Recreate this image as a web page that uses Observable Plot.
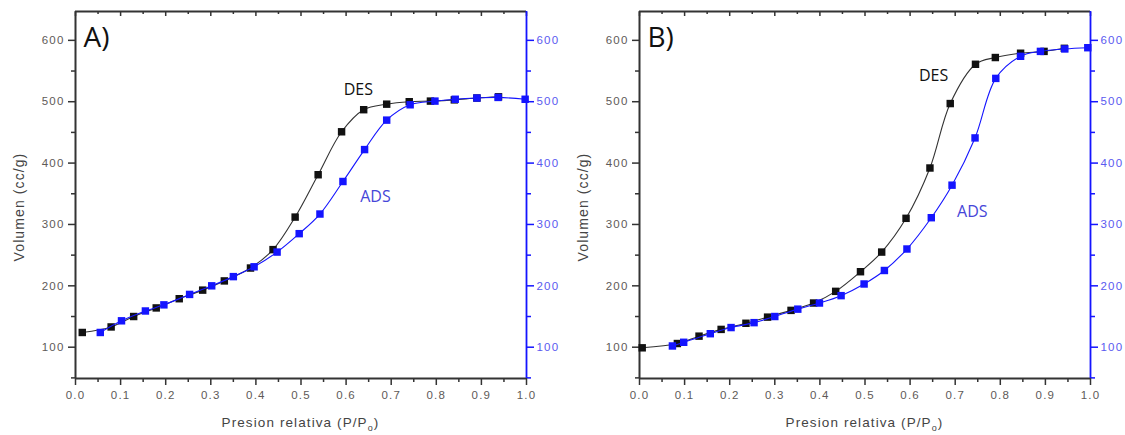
<!DOCTYPE html>
<html><head><meta charset="utf-8">
<script src="https://cdn.jsdelivr.net/npm/d3@7"></script>
<script src="https://cdn.jsdelivr.net/npm/@observablehq/plot@0.6"></script>
<style>
html,body{margin:0;padding:0;background:#fff;}
#wrap{position:relative;width:1125px;height:435px;overflow:hidden;background:#fff;}
.panel{position:absolute;top:0;}
.panel g[aria-label$="tick label"] text{letter-spacing:1.2px;}
</style></head><body><div id="wrap"></div>
<script>
// ---- data ----
const panelLabels = ["A)", "B)"];
const xTitle = "Presion relativa (P/P";
const xTitleSub = "o";
const yTitle = "Volumen (cc/g)";
const seriesNames = ["DES", "ADS"];

// Panel A
const desAx = [0.015, 0.079, 0.129, 0.179, 0.230, 0.282, 0.330, 0.388, 0.438, 0.487, 0.538, 0.590, 0.639, 0.690, 0.740, 0.787, 0.840, 0.890, 0.938];
const desAy = [124, 133, 150, 164, 179, 193, 208, 229, 259, 312, 381, 451, 487, 496, 500, 501, 503, 506, 508];
const adsAx = [0.055, 0.102, 0.155, 0.196, 0.253, 0.302, 0.350, 0.396, 0.447, 0.496, 0.542, 0.593, 0.641, 0.690, 0.742, 0.797, 0.842, 0.890, 0.937, 0.997];
const adsAy = [124, 143, 159, 169, 186, 200, 215, 231, 255, 285, 317, 370, 422, 470, 495, 501, 504, 506, 507, 504];

// Panel B
const desBx = [0.006, 0.084, 0.132, 0.181, 0.236, 0.284, 0.336, 0.386, 0.435, 0.490, 0.537, 0.591, 0.644, 0.689, 0.745, 0.789, 0.845, 0.897, 0.942];
const desBy = [99, 106, 118, 129, 139, 149, 160, 172, 191, 223, 255, 310, 392, 497, 561, 572, 579, 582, 587];
const adsBx = [0.073, 0.098, 0.157, 0.203, 0.254, 0.300, 0.351, 0.399, 0.447, 0.498, 0.543, 0.593, 0.647, 0.693, 0.744, 0.790, 0.845, 0.889, 0.943, 0.994];
const adsBy = [102, 108, 122, 132, 140, 150, 162, 172, 184, 203, 225, 260, 311, 364, 441, 538, 574, 582, 586, 588];

// annotation positions (data units)
const annoAx = [0.627, 0.665];
const annoAy = [519, 345];
const annoBx = [0.652, 0.738];
const annoBy = [542, 320];

// axes
const xDomain = [0, 1];
const yDomain = [49, 647];
const xMajor = [0, 0.1, 0.2, 0.3, 0.4, 0.5, 0.6, 0.7, 0.8, 0.9, 1.0];
const xMinor = [0.05, 0.15, 0.25, 0.35, 0.45, 0.55, 0.65, 0.75, 0.85, 0.95];
const yMajor = [100, 200, 300, 400, 500, 600];
const yMinor = [50, 150, 250, 350, 450, 550];

// ---- styles ----
const BLACK = "#111111";
const BLUE = "#1414ff";
const AXIS = "#333333";
const TICKTXT = "#5e5a58";
const RTXT = "#5a5af0";
const ADSTXT = "#4646d8";

function pts(xs, ys) { return xs.map((x, i) => ({x, y: ys[i]})); }

function makePanel(label, dx, dy, ax, ay, annoX, annoY, left, width) {
  const des = pts(dx, dy), ads = pts(ax, ay);
  const anno = annoX.map((x, i) => ({x, y: annoY[i], t: seriesNames[i]}));
  const mL = 75, mR = width - 526;
  const plot = Plot.plot({
    width, height: 435,
    marginLeft: mL, marginRight: mR, marginTop: 11, marginBottom: 57,
    style: {fontFamily: "'Liberation Sans', Arial, sans-serif", fontSize: "11.5px", background: "transparent", overflow: "visible"},
    x: {domain: xDomain, axis: null},
    y: {domain: yDomain, axis: null},
    marks: [
      Plot.axisY({anchor: "left", ticks: yMinor, tickSize: 4, tickFormat: () => "", stroke: AXIS, strokeWidth: 1.5, label: null}),
      Plot.axisY({anchor: "left", ticks: yMajor, tickSize: 7, tickPadding: 4, stroke: AXIS, fill: TICKTXT, strokeWidth: 1.5, label: null}),
      Plot.axisY({anchor: "right", ticks: yMinor, tickSize: 4, tickFormat: () => "", stroke: BLUE, strokeWidth: 1.5, label: null}),
      Plot.axisY({anchor: "right", ticks: yMajor, tickSize: 7, tickPadding: 3, stroke: BLUE, fill: RTXT, strokeWidth: 1.5, label: null}),
      Plot.axisX({anchor: "bottom", ticks: xMinor, tickSize: 4, tickFormat: () => "", stroke: AXIS, strokeWidth: 1.5, label: null}),
      Plot.axisX({anchor: "bottom", ticks: xMajor, tickSize: 7, tickPadding: 5, tickFormat: d3.format(".1f"), stroke: AXIS, fill: TICKTXT, strokeWidth: 1.5, label: null}),
      Plot.axisX({anchor: "top", ticks: xMinor, tickSize: -2, tickFormat: () => "", stroke: AXIS, strokeWidth: 1.5, label: null}),
      Plot.axisX({anchor: "top", ticks: xMajor, tickSize: -4, tickFormat: () => "", stroke: AXIS, strokeWidth: 1.5, label: null}),
      Plot.ruleY([yDomain[0]], {stroke: AXIS, strokeWidth: 2}),
      Plot.ruleY([yDomain[1]], {stroke: AXIS, strokeWidth: 2}),
      Plot.ruleX([xDomain[0]], {stroke: AXIS, strokeWidth: 2}),
      Plot.ruleX([xDomain[1]], {stroke: BLUE, strokeWidth: 1.8}),
      Plot.line(des, {x: "x", y: "y", stroke: "#333", strokeWidth: 1.1, curve: "catmull-rom"}),
      Plot.dot(des, {x: "x", y: "y", symbol: "square", r: 4.2, fill: BLACK, stroke: null}),
      Plot.line(ads, {x: "x", y: "y", stroke: BLUE, strokeWidth: 1.1, curve: "catmull-rom"}),
      Plot.dot(ads, {x: "x", y: "y", symbol: "square", r: 4.2, fill: BLUE, stroke: null}),
      Plot.text(anno, {x: "x", y: "y", text: "t", fill: (d, i) => i === 0 ? BLACK : ADSTXT, fontSize: 16, fontFamily: "'Open Sans', sans-serif", lineAnchor: "middle", textAnchor: "middle"}),
      Plot.text([label], {frameAnchor: "top-left", dx: 8, dy: 16, fontSize: 28, fontFamily: "'Open Sans', sans-serif", fill: "#111", lineAnchor: "top", textAnchor: "start"})
    ]
  });
  const div = document.createElement("div");
  div.className = "panel";
  div.style.left = left + "px";
  div.appendChild(plot);
  document.getElementById("wrap").appendChild(div);

  const svg = d3.select(plot);
  const xt = svg.append("text")
    .attr("x", (mL + 526) / 2).attr("y", 426.5)
    .attr("text-anchor", "middle")
    .attr("font-family", "'Liberation Sans', Arial, sans-serif")
    .attr("font-size", 13.5).attr("fill", "#444")
    .style("letter-spacing", "1.1px");
  xt.append("tspan").text(xTitle);
  xt.append("tspan").attr("dy", 4).attr("font-size", 9).text(xTitleSub);
  xt.append("tspan").attr("dy", -4).text(")");

  svg.append("text")
    .attr("transform", "translate(24,207) rotate(-90)")
    .attr("text-anchor", "middle")
    .attr("font-family", "'Liberation Sans', Arial, sans-serif")
    .attr("font-size", 14).attr("fill", "#444")
    .style("letter-spacing", "1.1px")
    .text(yTitle);
}

makePanel(panelLabels[0], desAx, desAy, adsAx, adsAy, annoAx, annoAy, 0, 562);
makePanel(panelLabels[1], desBx, desBy, adsBx, adsBy, annoBx, annoBy, 564, 561);
</script>
</body></html>
